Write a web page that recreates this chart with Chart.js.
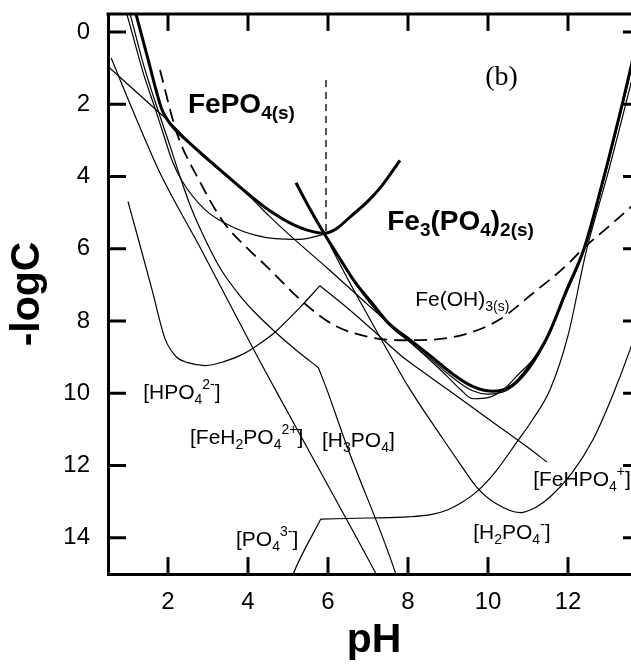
<!DOCTYPE html>
<html><head><meta charset="utf-8">
<script src="https://cdn.jsdelivr.net/npm/chart.js@4/dist/chart.umd.min.js"></script>
<style>html,body{margin:0;padding:0;background:#fff;overflow:hidden;}#wrap{width:631px;height:665px;overflow:hidden;}canvas{display:block;}</style>
</head><body>
<div id="wrap"><canvas id="c" width="640" height="665"></canvas></div>
<script>
// ---- tick values ----
const xTicks = [2, 4, 6, 8, 10, 12];
const yTicks = [0, 2, 4, 6, 8, 10, 12, 14];

// ---- curves: [pH, -logC] ----
const fePO4Solid = [[1.15,-0.7],[1.2,-0.5],[1.5,0.75],[1.84,2.12],[2.0,2.45],[2.18,2.7],[2.5,3.03],[2.8,3.33],[3.2,3.72],[3.6,4.1],[4.05,4.52],[4.5,4.91],[5.13,5.33],[5.5,5.49],[5.9,5.57],[6.2,5.45],[6.55,5.12],[7.0,4.68],[7.35,4.25],[7.8,3.55]];
const fe3PO42Solid = [[5.2,4.17],[5.5,4.8],[5.9,5.57],[6.2,6.1],[6.68,6.93],[7.1,7.5],[7.5,8.04],[8.1,8.56],[8.6,9.0],[9.1,9.45],[9.6,9.8],[10.1,9.94],[10.6,9.78],[11.0,9.3],[11.5,8.4],[11.97,7.13],[12.4,6.0],[12.9,4.0],[13.38,1.88],[13.8,-0.1]];
const feOH3Solid = [[1.8,1.05],[2.22,2.79],[2.8,4.15],[3.38,5.25],[4.0,6.0],[4.47,6.49],[5.3,7.4],[6.13,8.1],[6.98,8.43],[7.8,8.53],[8.5,8.52],[9.47,8.35],[10.3,7.95],[11.1,7.25],[11.97,6.45],[12.4,5.97],[13.0,5.4],[13.8,4.62]];
const boundaryPH = [[5.95,1.33],[5.95,5.57]];
const totalNearFe3 = [[5.9,5.57],[6.68,6.96],[7.5,8.08],[8.1,8.63],[8.6,9.08],[9.1,9.55],[9.6,9.92],[10.0,10.02],[10.5,9.9],[11.0,9.38],[11.5,8.45],[11.97,7.16],[12.4,6.0],[12.9,4.05],[13.38,1.95],[13.8,0.0]];
const totalCurve2 = [[0.5,0.95],[1.0,1.45],[1.5,1.95],[2.0,2.45],[2.2,2.67],[2.8,3.36],[3.2,3.74],[3.6,4.12],[4.05,4.56],[4.5,5.06],[5.0,5.58],[6.0,6.55],[7.0,7.55],[7.8,8.33],[8.5,9.03],[9.0,9.55],[9.3,9.88],[9.63,10.15],[10.0,10.12],[10.4,9.88],[10.72,9.52],[11.3,8.8],[11.97,7.2],[12.4,6.05],[12.9,4.05],[13.38,1.95],[13.8,0.0]];
const curveU = [[0.9,-0.75],[0.97,-0.5],[1.4,1.2],[1.68,2.12],[1.93,2.98],[2.1,3.55],[2.34,4.1],[2.93,4.92],[3.59,5.38],[4.18,5.62],[4.68,5.72],[5.3,5.74],[5.9,5.6]];
const h3PO4Left = [[0.98,-0.75],[1.05,-0.5],[1.4,0.95],[1.76,2.2],[2.05,3.15],[2.3,4.0],[2.59,4.9],[3.0,5.9],[3.34,6.6],[3.8,7.3],[4.18,7.77],[4.68,8.3],[5.2,8.8],[5.76,9.29]];
const h3PO4Right = [[5.76,9.29],[5.97,9.89],[6.47,11.45],[7.68,14.95],[7.72,15.1]];
const feH2PO4 = [[0.58,0.72],[1.0,1.85],[1.43,2.98],[1.8,3.9],[2.83,6.02],[4.18,8.87],[4.68,9.89],[6.0,12.55],[7.18,14.95],[7.25,15.1]];
const hPO4Left = [[1.0,4.69],[1.3,5.9],[1.6,7.13],[1.93,8.5],[2.2,8.98],[2.5,9.15],[2.93,9.23],[3.4,9.12],[3.9,8.9],[4.3,8.62],[4.68,8.3],[5.3,7.62],[5.8,7.02]];
const feHPO4Right = [[5.8,7.02],[6.5,7.65],[7.2,8.33],[7.8,8.93],[8.18,9.25],[9.0,9.9],[10.0,10.7],[11.0,11.5],[11.47,11.9]];
const h2PO4 = [[5.9,5.57],[6.5,6.85],[7.0,7.85],[7.47,8.78],[8.05,9.89],[8.88,11.27],[9.3,11.95],[9.72,12.6],[10.2,13.05],[10.8,13.3],[11.2,13.15],[11.55,12.87],[12.1,12.2],[12.63,11.27],[13.1,10.1],[13.58,8.7],[13.8,7.95]];
const pO4Left = [[5.1,15.1],[5.13,15.0],[5.82,13.48]];
const pO4Right = [[5.82,13.48],[7.0,13.45],[8.0,13.42],[8.6,13.35],[9.0,13.22],[9.3,13.05],[9.72,12.72],[10.2,12.15],[10.72,11.35],[11.1,10.75],[11.55,9.9],[12.0,8.4],[12.45,6.1],[13.0,3.9],[13.6,1.3],[13.8,0.4]];

// ---- text labels ----
const labelParts = [
  [['FePO','b'],['4(s)','bsub']],
  [['Fe','b'],['3','bsub'],['(PO','b'],['4','bsub'],[')','b'],['2(s)','bsub']],
  [['(b)','serif']],
  [['Fe(OH)','n'],['3(s)','sub']],
  [['[HPO','n'],['4','sub'],['2-','sup'],[']','n']],
  [['[FeH','n'],['2','sub'],['PO','n'],['4','sub'],['2+','sup'],[']','n']],
  [['[H','n'],['3','sub'],['PO','n'],['4','sub'],[']','n']],
  [['[FeHPO','n'],['4','sub'],['+','sup'],[']','n']],
  [['[H','n'],['2','sub'],['PO','n'],['4','sub'],['-','sup'],[']','n']],
  [['[PO','n'],['4','sub'],['3-','sup'],[']','n']]
];
const labelAnchors = [[2.5,2.24],[7.48,5.47],[9.93,1.46],[8.18,7.57],[1.38,10.17],[2.55,11.41],[5.85,11.49],[11.13,12.57],[9.63,14.03],[3.7,14.23]];

const SANS = "'Liberation Sans', Arial, Helvetica, sans-serif";
const SERIF = "'Liberation Serif', 'Times New Roman', serif";
const textStyles = {
  n:    {font: '21px ' + SANS, dy: 0},
  sub:  {font: '14px ' + SANS, dy: 5},
  sup:  {font: '14px ' + SANS, dy: -10},
  b:    {font: 'bold 28px ' + SANS, dy: 0},
  bsub: {font: 'bold 19px ' + SANS, dy: 6},
  serif:{font: '28px ' + SERIF, dy: 0}
};

function line(points, width, dash) {
  return {
    data: points.map(p => ({x: p[0], y: p[1]})),
    borderColor: '#000', borderWidth: width, borderDash: dash || [],
    pointRadius: 0, fill: false, cubicInterpolationMode: 'monotone', tension: 0.4
  };
}

const THIN = 1.2, THICK = 3;
const datasets = [
  line(feOH3Solid, 1.8, [13, 7]),
  Object.assign(line(boundaryPH, 1.3, [7, 5]), {cubicInterpolationMode: 'default', tension: 0}),
  line(totalCurve2, THIN),
  line(totalNearFe3, THIN),
  line(curveU, THIN),
  line(h3PO4Left, THIN),
  line(h3PO4Right, THIN),
  line(feH2PO4, THIN),
  line(hPO4Left, THIN),
  line(feHPO4Right, THIN),
  line(h2PO4, THIN),
  line(pO4Left, THIN),
  line(pO4Right, THIN),
  line(fePO4Solid, THICK),
  line(fe3PO42Solid, THICK)
];

const framePlugin = {
  id: 'frame',
  afterDraw(chart) {
    const {ctx, chartArea: a, scales: {x, y}} = chart;
    ctx.save();
    ctx.strokeStyle = '#000';
    ctx.lineWidth = 3;
    ctx.lineCap = 'butt';
    ctx.beginPath();
    ctx.moveTo(a.left - 1.5, a.top); ctx.lineTo(a.right, a.top);
    ctx.moveTo(a.right, a.top); ctx.lineTo(a.right, a.bottom);
    xTicks.forEach(v => {
      const px = x.getPixelForValue(v);
      ctx.moveTo(px, a.bottom); ctx.lineTo(px, a.bottom - 17);
      ctx.moveTo(px, a.top); ctx.lineTo(px, a.top + 17);
    });
    yTicks.forEach(v => {
      const py = y.getPixelForValue(v);
      ctx.moveTo(a.left, py); ctx.lineTo(a.left + 18, py);
      ctx.moveTo(a.right, py); ctx.lineTo(a.right - 17, py);
    });
    ctx.stroke();

    // labels
    ctx.fillStyle = '#000';
    ctx.textBaseline = 'alphabetic';
    ctx.textAlign = 'left';
    labelParts.forEach((parts, i) => {
      let px = x.getPixelForValue(labelAnchors[i][0]);
      const py = y.getPixelForValue(labelAnchors[i][1]);
      parts.forEach(([t, s]) => {
        const st = textStyles[s];
        ctx.font = st.font;
        ctx.fillText(t, px, py + st.dy);
        px += ctx.measureText(t).width;
      });
    });
    ctx.restore();
  }
};

new Chart(document.getElementById('c'), {
  type: 'line',
  data: {datasets},
  plugins: [framePlugin],
  options: {
    responsive: false,
    animation: false,
    devicePixelRatio: 1,
    layout: {padding: {top: 14, right: 0, left: 0, bottom: 0}},
    plugins: {legend: {display: false}, tooltip: {enabled: false}},
    scales: {
      x: {
        type: 'linear', min: 0.5, max: 13.8,
        grid: {display: false, drawTicks: false},
        border: {display: true, width: 3, color: '#000'},
        ticks: {color: '#000', font: {family: SANS, size: 24}, padding: 14, maxRotation: 0},
        afterBuildTicks: s => { s.ticks = xTicks.map(v => ({value: v})); },
        afterFit: s => { s.height = 91; s.paddingLeft = 0; s.paddingRight = 0; },
        title: {display: true, text: 'pH', color: '#000', font: {family: SANS, size: 41, weight: 'bold'}, padding: {top: 0, bottom: 0}}
      },
      y: {
        type: 'linear', reverse: true, min: -0.5, max: 15,
        grid: {display: false, drawTicks: false},
        border: {display: true, width: 3, color: '#000'},
        ticks: {color: '#000', font: {family: SANS, size: 24}, padding: 18},
        afterBuildTicks: s => { s.ticks = yTicks.map(v => ({value: v})); },
        afterFit: s => { s.width = 108; s.paddingTop = 0; s.paddingBottom = 0; },
        title: {display: true, text: '-logC', color: '#000', font: {family: SANS, size: 41, weight: 'bold'}, padding: {top: 3, bottom: 0}}
      }
    }
  }
});
</script>
</body></html>
